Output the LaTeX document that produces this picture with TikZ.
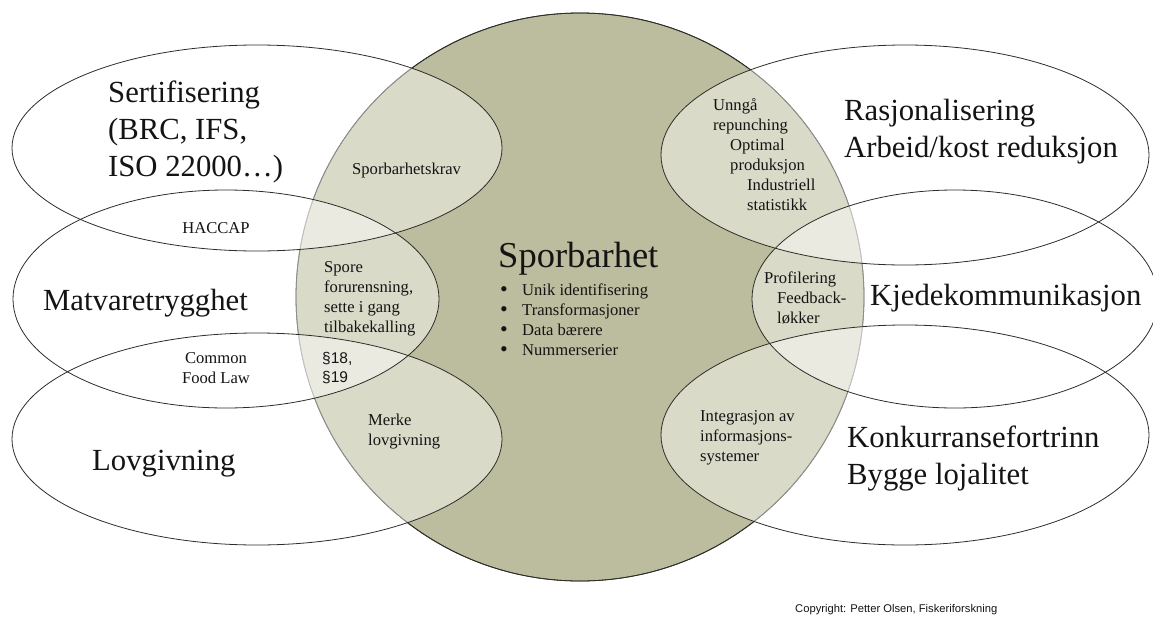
\documentclass[tikz,border=0pt]{standalone}
\usepackage{fontspec}
\setmainfont{Liberation Serif}
\newfontfamily\arialfont{Liberation Sans}
\definecolor{olivefill}{RGB}{188,189,158}
\definecolor{rimgray}{RGB}{45,45,40}
\definecolor{inkblack}{RGB}{20,20,20}
\usetikzlibrary{positioning}
\newcommand{\punktdot}{\makebox[22pt][l]{\fontsize{22}{20}\selectfont\raisebox{-1.2pt}{•}}}

\begin{document}
\begin{tikzpicture}[x=1pt, y=-1pt,
  core/.style={fill=olivefill, draw=rimgray, line width=0.8pt},
  lens/.style={fill=white, fill opacity=0.45},
  rim/.style={draw=rimgray, line width=0.8pt},
  big/.style={anchor=base west, inner sep=0pt, align=left, text=inkblack,
    font=\fontsize{30.7}{37}\selectfont},
  small/.style={anchor=base west, inner sep=0pt, align=left, text=inkblack,
    font=\fontsize{16.6}{20}\selectfont},
  title/.style={anchor=base west, inner sep=0pt, text=inkblack,
    font=\fontsize{36.5}{44}\selectfont},
  sans/.style={anchor=base west, inner sep=0pt, align=left, text=inkblack,
    font=\arialfont\fontsize{15.5}{19}\selectfont},
]
\useasboundingbox (0,0) rectangle (1153,616);
% (multi-line nodes sit on the baseline of their last line)

% ---- Sporbarhet (centre) ----
\fill[core] (580,297) circle [radius=284];
\draw[core, fill=none] (580,297) circle [radius=284];

% ---- ellipse fills ----
\fill[lens] (257,148) ellipse [x radius=245, y radius=103];
\fill[lens] (226,299) ellipse [x radius=213, y radius=109];
\fill[lens] (257,439) ellipse [x radius=245, y radius=106];
\fill[lens] (905,155) ellipse [x radius=244, y radius=110];
\fill[lens] (955,299) ellipse [x radius=203, y radius=109];
\fill[lens] (905,435) ellipse [x radius=244, y radius=110];

% ---- ellipse outlines ----
\draw[rim] (257,148) ellipse [x radius=245, y radius=103];
\draw[rim] (226,299) ellipse [x radius=213, y radius=109];
\draw[rim] (257,439) ellipse [x radius=245, y radius=106];
\draw[rim] (905,155) ellipse [x radius=244, y radius=110];
\draw[rim] (955,299) ellipse [x radius=203, y radius=109];
\draw[rim] (905,435) ellipse [x radius=244, y radius=110];

% ---- left side ----
\node[big] (sert) at (108,176) {Sertifisering\\(BRC, IFS,\\ISO 22000…)};
\node[small] (krav) at (352,174) {Sporbarhetskrav};
\node[small, anchor=base] (haccap) at (216,233) {HACCAP};
\node[big] (matvare) at (43,310) {Matvaretrygghet};
\node[small] (spore) at (324,332)
  {Spore\\forurensning,\\sette i gang\\tilbakekalling};
\node[small, anchor=base, align=center] (foodlaw) at (216,383)
  {Common\\Food Law};
\node[sans] (paragraf) at (322,382) {§18,\\§19};
\node[big] (lov) at (92,470) {Lovgivning};
\node[small] (merke) at (368,445) {Merke\\lovgivning};

% ---- centre text ----
\node[title] (spor) at (498,267) {Sporbarhet};
\node[small] (punkt) at (500,355)
  {\punktdot Unik identifisering\\
   \punktdot Transformasjoner\\
   \punktdot Data bærere\\
   \punktdot Nummerserier};

% ---- right side ----
\node[small] (unnga) at (713,130) {Unngå\\repunching};
\node[small] (optimal) at (730,170) {Optimal\\produksjon};
\node[small] (statistikk) at (747,210) {Industriell\\statistikk};
\node[big] (rasjon) at (844,157) {Rasjonalisering\\Arbeid/kost reduksjon};
\node[small] (profil) at (764,283) {Profilering};
\node[small] (feedback) at (777,323) {Feedback-\\løkker};
\node[big] (kjede) at (870,305) {Kjedekommunikasjon};
\node[small] (integ) at (700,461) {Integrasjon av\\informasjons-\\systemer};
\node[big] (konk) at (847,484) {Konkurransefortrinn\\Bygge lojalitet};

% ---- copyright ----
\node[sans, font=\arialfont\fontsize{11.2}{13}\selectfont] (copy) at (795,612)
  {Copyright: Petter Olsen, Fiskeriforskning};

\end{tikzpicture}
\end{document}
